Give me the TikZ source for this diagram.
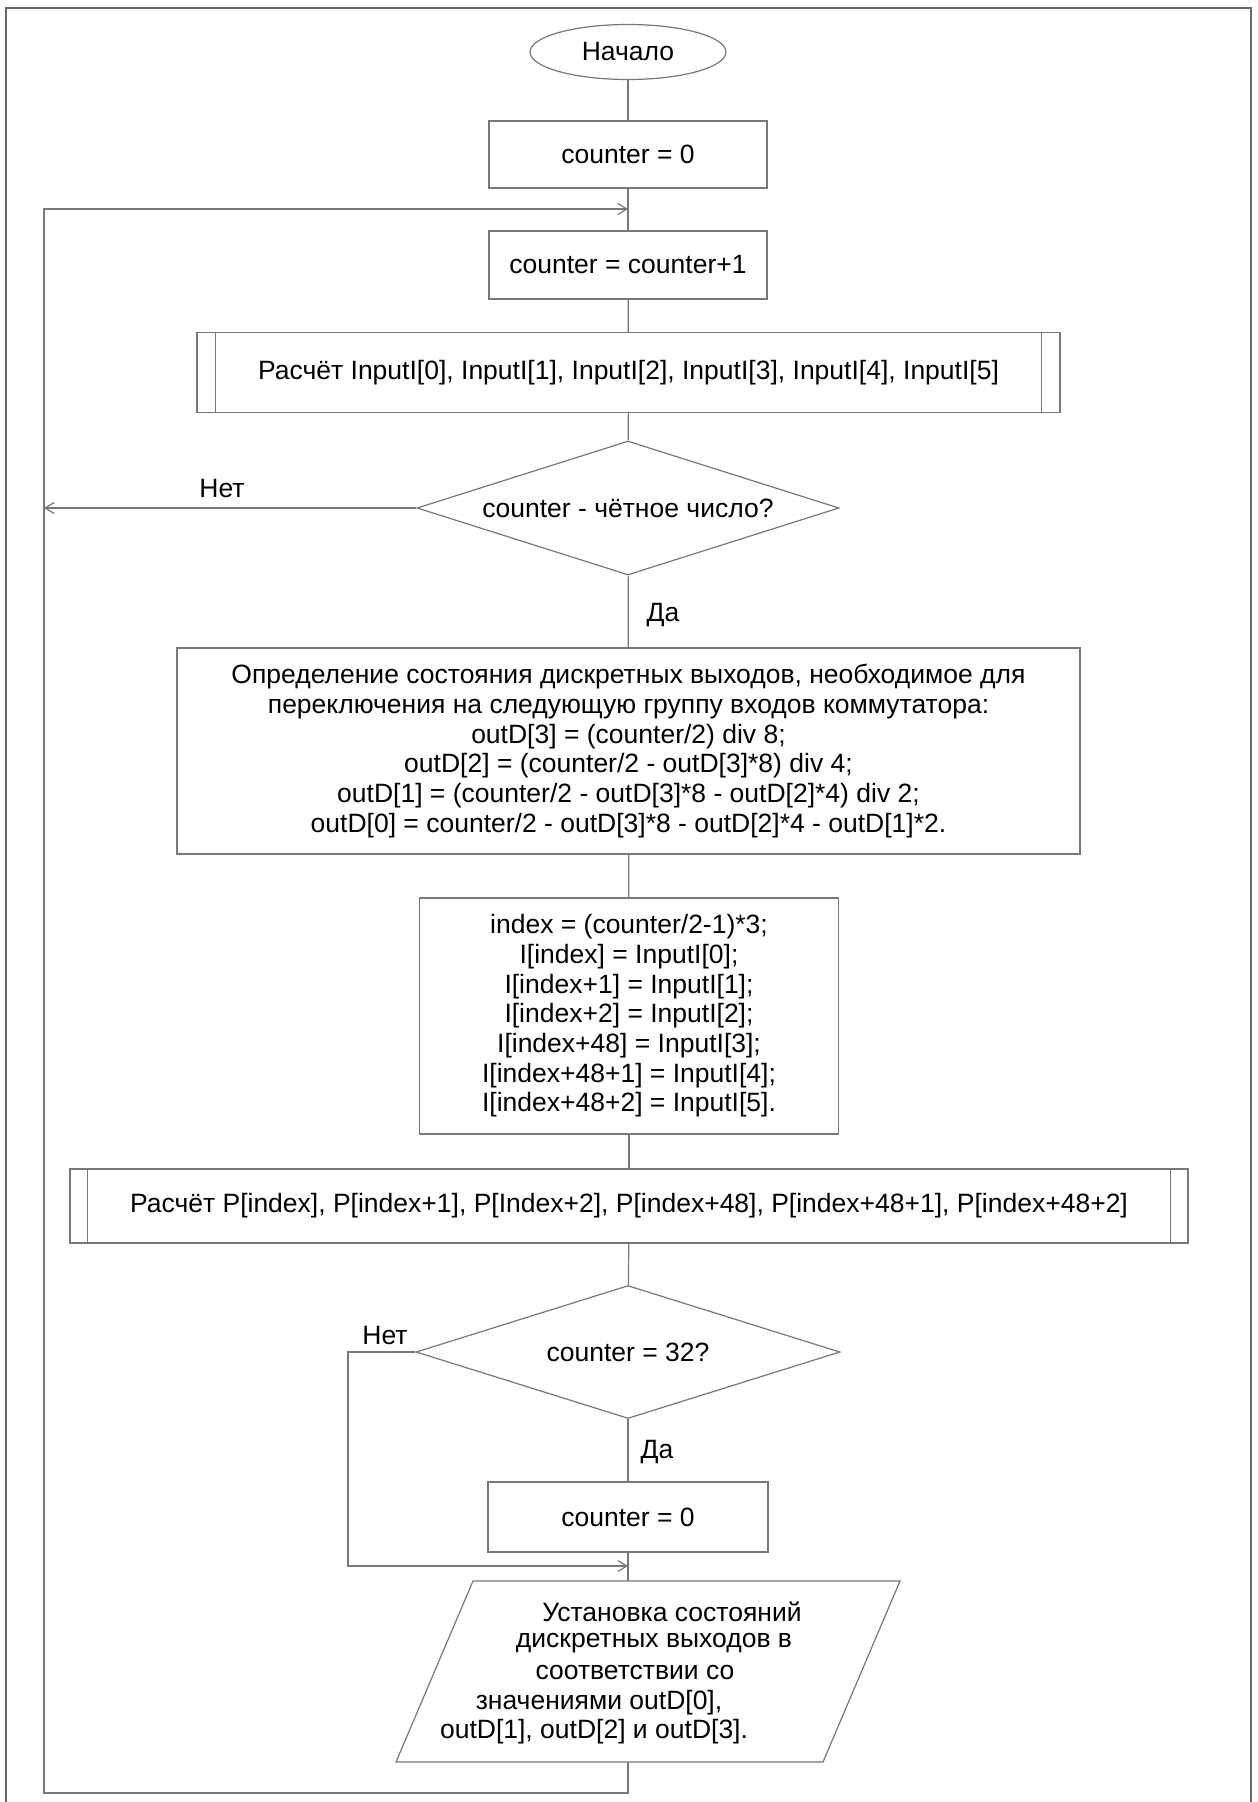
\documentclass[tikz,border=0pt]{standalone}
\usepackage{fontspec}
\setmainfont{Liberation Sans}
\usetikzlibrary{shapes.geometric,arrows.meta}
\definecolor{ln}{RGB}{120,120,120}
\definecolor{fr}{RGB}{105,105,105}
\begin{document}
\begin{tikzpicture}[x=1pt,y=-1pt,
  font=\fontsize{26.5}{29.7}\selectfont,
  line/.style={draw=ln,line width=1.2pt},
  box/.style={line, rectangle, inner sep=0pt, align=center},
  arr/.style={line, -{Straight Barb[length=9pt,width=11pt]}},
  lbl/.style={inner sep=0pt}
]
\useasboundingbox (0,0) rectangle (1258,1802);
\draw[fr,line width=2pt] (6,1802) -- (6,8) -- (1251,8) -- (1251,1802);

% nodes
\node[line, ellipse, minimum width=196pt, minimum height=55pt, inner sep=0pt] (start) at (628,52) {Начало};
\node[box, minimum width=278pt, minimum height=67pt] (c0) at (628,154.5) {counter = 0};
\node[box, minimum width=278pt, minimum height=68pt] (c1) at (628,265) {counter = counter+1};
\node[box, minimum width=863pt, minimum height=80pt] (s1) at (628.5,372.5) {Расчёт InputI[0], InputI[1], InputI[2], InputI[3], InputI[4], InputI[5]};
\draw[line] ([xshift=19pt]s1.north west) -- ([xshift=19pt]s1.south west);
\draw[line] ([xshift=-19pt]s1.north east) -- ([xshift=-19pt]s1.south east);
\node[line, diamond, minimum width=422pt, minimum height=134pt, aspect=3.15, inner sep=0pt] (d1) at (628,508) {counter - чётное число?};
\node[box, minimum width=903pt, minimum height=206pt] (big) at (628.5,751) {Определение состояния дискретных выходов, необходимое для\\
переключения на следующую группу входов коммутатора:\\
outD[3] = (counter/2) div 8;\\
outD[2] = (counter/2 - outD[3]*8) div 4;\\
outD[1] = (counter/2 - outD[3]*8 - outD[2]*4) div 2;\\
outD[0] = counter/2 - outD[3]*8 - outD[2]*4 - outD[1]*2.};
\node[box, minimum width=419pt, minimum height=236pt] (idx) at (629,1016) {index = (counter/2-1)*3;\\
I[index] = InputI[0];\\
I[index+1] = InputI[1];\\
I[index+2] = InputI[2];\\
I[index+48] = InputI[3];\\
I[index+48+1] = InputI[4];\\
I[index+48+2] = InputI[5].};
\node[box, minimum width=1118pt, minimum height=74pt] (s2) at (629,1206) {Расчёт P[index], P[index+1], P[Index+2], P[index+48], P[index+48+1], P[index+48+2]};
\draw[line] ([xshift=18pt]s2.north west) -- ([xshift=18pt]s2.south west);
\draw[line] ([xshift=-18pt]s2.north east) -- ([xshift=-18pt]s2.south east);
\node[line, diamond, minimum width=424pt, minimum height=133pt, aspect=3.19, inner sep=0pt] (d2) at (628,1352) {counter = 32?};
\node[box, minimum width=280pt, minimum height=70pt] (c2) at (628,1517) {counter = 0};

% parallelogram
\coordinate (pTL) at (473,1581);
\coordinate (pTR) at (900,1581);
\coordinate (pBR) at (823,1762);
\coordinate (pBL) at (396,1762);
\draw[line] (pTL) -- (pTR) -- (pBR) -- (pBL) -- cycle;
\coordinate (pTop) at (628,1581);
\coordinate (pBot) at (628,1762);
\node[lbl] (p1) at (672,1612) {Установка состояний};
\node[lbl] (p2) at (654,1643) {дискретных выходов в};
\node[lbl] (p3) at (635,1672) {соответствии со};
\node[lbl] (p4) at (599,1703) {значениями outD[0],};
\node[lbl] (p5) at (594,1732) {outD[1], outD[2] и outD[3].};

% labels
\node[lbl] (no1) at (222,489) {Нет};
\node[lbl] (yes1) at (663,615) {Да};
\node[lbl] (no2) at (385,1335) {Нет};
\node[lbl] (yes2) at (657,1452) {Да};

% connectors
\coordinate (j1) at (628,209);
\coordinate (lx) at (44,508);
\coordinate (b1) at (628,1793);
\coordinate (b2) at (44,1793);
\coordinate (b3) at (44,209);
\coordinate (n2a) at (348,1352);
\coordinate (n2b) at (348,1566);
\coordinate (j2) at (628,1566);

\draw[line] (start) -- (c0);
\draw[line] (c0) -- (c1);
\draw[line] (c1) -- (s1);
\draw[line] (s1) -- (d1);
\draw[line] (d1) -- (big);
\draw[line] (big) -- (idx);
\draw[line] (idx) -- (s2);
\draw[line] (s2) -- (d2);
\draw[line] (d2) -- (c2);
\draw[line] (c2) -- (pTop);
\draw[arr] (d1.west) -- (lx);
\draw[arr] (pBot) -- (b1) -- (b2) -- (b3) -- (j1);
\draw[arr] (d2.west) -- (n2a) -- (n2b) -- (j2);
\end{tikzpicture}
\end{document}
